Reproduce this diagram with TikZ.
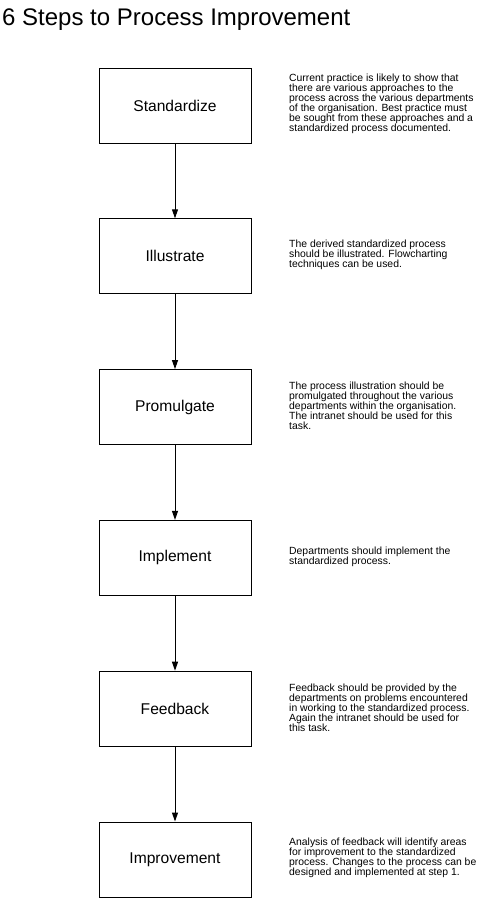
\documentclass[tikz,border=0pt]{standalone}
\usepackage{fontspec}
\setmainfont{Liberation Sans}
\usetikzlibrary{arrows.meta}
\begin{document}
\begin{tikzpicture}[x=1pt,y=-1pt,
  stepbox/.style={draw=black, line width=1pt, minimum width=152pt, minimum height=75pt, inner sep=0pt, font=\fontsize{15.6}{18}\selectfont},
  desc/.style={anchor=west, align=left, inner sep=0pt, font=\fontsize{10.4}{10}\selectfont},
  conn/.style={line width=1pt, -{Triangle[length=9pt,width=6pt]}}]
\useasboundingbox (0,0) rectangle (480,900);
\node[anchor=base west, inner sep=0pt, font=\fontsize{24}{28}\selectfont] (title) at (2,25) {6 Steps to Process Improvement};

\node[stepbox] (s1) at (175,105.5) {Standardize};
\node[stepbox] (s2) at (175,256.3) {Illustrate};
\node[stepbox] (s3) at (175,407.1) {Promulgate};
\node[stepbox] (s4) at (175,557.9) {Implement};
\node[stepbox] (s5) at (175,708.7) {Feedback};
\node[stepbox] (s6) at (175,859.5) {Improvement};

\node[desc] (d1) at (289,104) {Current practice is likely to show that\\there are various approaches to the\\process across the various departments\\of the organisation. Best practice must\\be sought from these approaches and a\\standardized process documented.};
\node[desc] (d2) at (289,255) {The derived standardized process\\should be illustrated. Flowcharting\\techniques can be used.};
\node[desc] (d3) at (289,406) {The process illustration should be\\promulgated throughout the various\\departments within the organisation.\\The intranet should be used for this\\task.};
\node[desc] (d4) at (289,557) {Departments should implement the\\standardized process.};
\node[desc] (d5) at (289,707.5) {Feedback should be provided by the\\departments on problems encountered\\in working to the standardized process.\\Again the intranet should be used for\\this task.};
\node[desc] (d6) at (289,858) {Analysis of feedback will identify areas\\for improvement to the standardized\\process. Changes to the process can be\\designed and implemented at step 1.};

\draw[conn] (s1) -- (s2);
\draw[conn] (s2) -- (s3);
\draw[conn] (s3) -- (s4);
\draw[conn] (s4) -- (s5);
\draw[conn] (s5) -- (s6);
\end{tikzpicture}
\end{document}
